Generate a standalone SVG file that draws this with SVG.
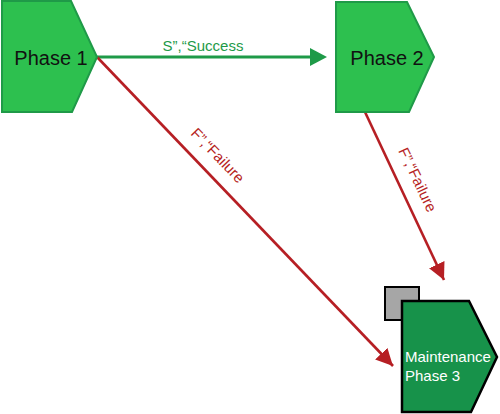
<svg xmlns="http://www.w3.org/2000/svg" width="500" height="414" viewBox="0 0 500 414">
<defs>
<style>
.phase{fill:#2dc04f;stroke:#1f9a48;stroke-width:2}
.t{font-family:"Liberation Sans",Arial,sans-serif}
.pl{font-size:20px;fill:#111}
.g{stroke:#1e9a48;stroke-width:3;fill:none}
.r{stroke:#b61f24;stroke-width:2.6;fill:none}
.gl{font-size:15px;fill:#1e9a48}
.rl{font-size:15px;fill:#b61f24}
</style>
<marker id="ar" markerWidth="17" markerHeight="17" refX="17" refY="8.5" orient="auto" markerUnits="userSpaceOnUse" viewBox="0 0 17 17">
<path d="M0,0 L17,8.5 L0,17 Z" fill="#b61f24"/>
</marker>
</defs>
<g id="connectors">
<line class="g" x1="97" y1="57" x2="312" y2="57"/>
<path d="M310,48 L327,57 L310,66 Z" fill="#1e9a48"/>
<text class="t gl" x="203" y="51" text-anchor="middle">S”,“Success</text>
<line class="r" x1="97" y1="57" x2="393" y2="366" marker-end="url(#ar)"/>
<text class="t rl" transform="translate(214,159) rotate(46.2)" text-anchor="middle">F”,“Failure</text>
<line class="r" x1="365" y1="112" x2="444" y2="280" marker-end="url(#ar)"/>
<text class="t rl" transform="translate(413,182) rotate(64.5)" text-anchor="middle">F”,“Failure</text>
</g>
<g id="phase1">
<polygon class="phase" points="2,1 71,1 97,57 72,112 2,112"/>
<text class="t pl" x="51" y="65" text-anchor="middle">Phase 1</text>
</g>
<g id="phase2">
<polygon class="phase" points="336,2 407,2 434,57 409,112 336,112"/>
<text class="t pl" x="387" y="65" text-anchor="middle">Phase 2</text>
</g>
<g id="phase3">
<rect x="385" y="287" width="34" height="33" fill="#a6a6a6" stroke="#000" stroke-width="2"/>
<polygon points="402,301 469,301 497,357 471,412 402,412" fill="#17924a" stroke="#000" stroke-width="2.5"/>
<text class="t" x="405" y="362" font-size="15" fill="#fff">Maintenance</text>
<text class="t" x="405" y="381" font-size="15" fill="#fff">Phase 3</text>
</g>
</svg>
